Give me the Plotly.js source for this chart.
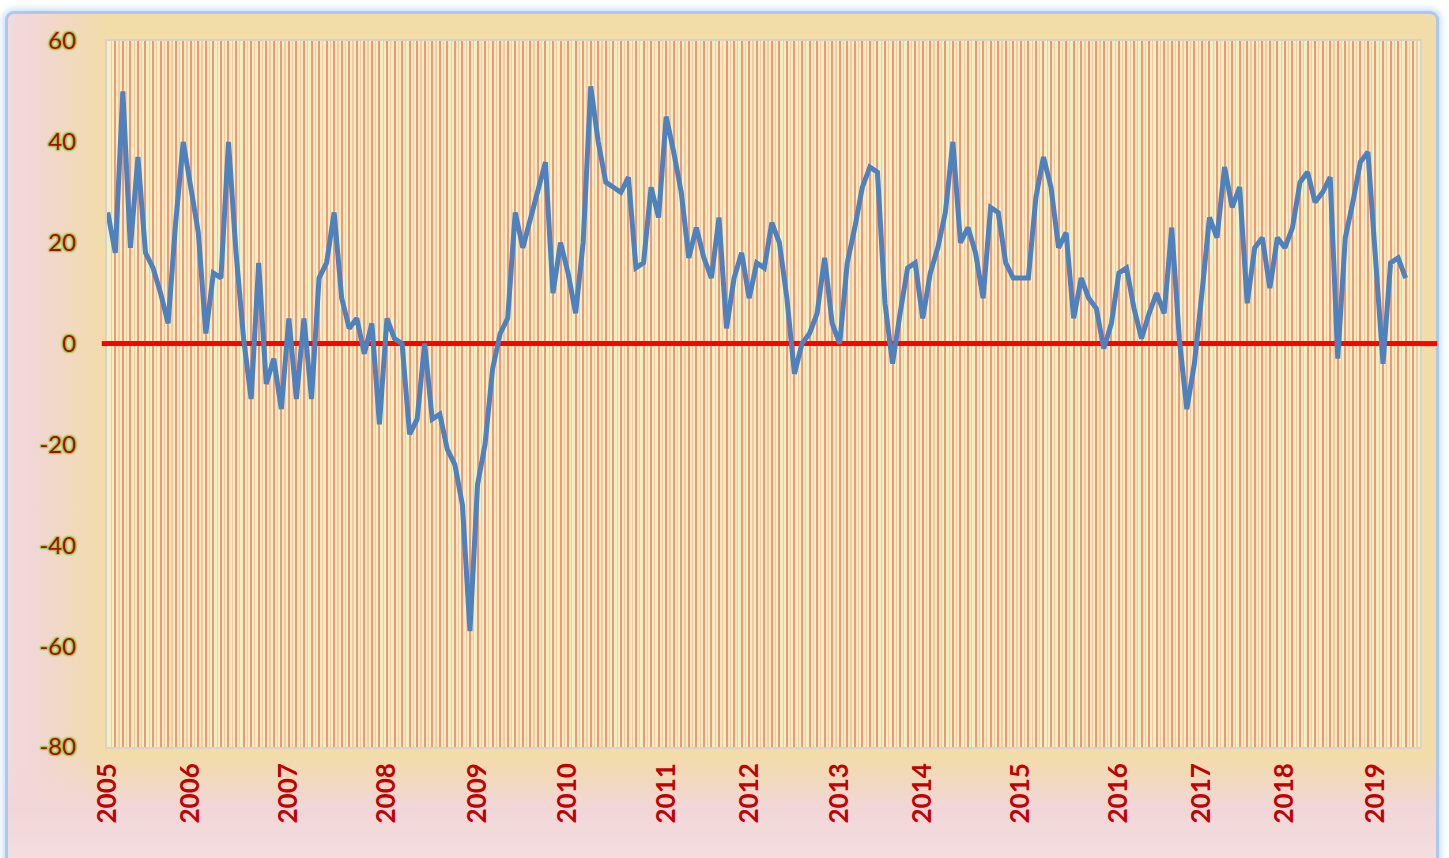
<!DOCTYPE html>
<html>
<head>
<meta charset="utf-8">
<script src="https://cdn.plot.ly/plotly-3.0.1.min.js"></script>
<style>
  html, body { margin: 0; padding: 0; background: #ffffff; width: 1449px; height: 858px; overflow: hidden; }
  #frame {
    position: absolute; left: 5px; top: 11px; width: 1428px; height: 900px;
    border: 3px solid #a9c9f1; border-radius: 9px;
    box-shadow: 0 0 6px 2px rgba(150,190,240,0.55);
    background:
      linear-gradient(to bottom, rgba(241,214,216,0) 0px, rgba(241,214,216,0) 740px, rgba(241,214,216,1) 795px, #f5e4e4 880px),
      linear-gradient(to right, #f3dbdb 0px, #f1d6d6 25px, rgba(242,220,168,0) 100px),
      #f2dca7;
  }
  #chart { position: absolute; left: 0; top: 0; width: 1449px; height: 858px; }
</style>
</head>
<body>
<div id="frame"></div>
<div id="chart"></div>
<script>
// Monthly readings (index = month position on the category axis)
const seriesValues = [
  26, 18, 50, 19, 37, 18, 15, 10, 4, 24, 40,
  31, 22, 2, 14, 13, 40, 18, 1, -11, 16, -8, -3, -13,
  5, -11, 5, -11, 13, 16, 26, 9, 3, 5, -2, 4, -16,
  5, 1, 0, -18, -15, 0, -15, -14, -21, -24, -32, -57,
  -28, -20, -5, 2, 5, 26, 19, 25, 31, 36, 10, 20,
  14, 6, 20, 51, 40, 32, 31, 30, 33, 15, 16, 31, 25,
  45, 38, 30, 17, 23, 17, 13, 25, 3, 13, 18,
  9, 16, 15, 24, 20, 9, -6, 0, 2, 6, 17, 4,
  0, 16, 23, 31, 35, 34, 8, -4, 6, 15, 16,
  5, 14, 19, 26, 40, 20, 23, 18, 9, 27, 26, 16, 13,
  13, 13, 29, 37, 31, 19, 22, 5, 13, 9, 7, -1, 4,
  14, 15, 7, 1, 6, 10, 6, 23, 1, -13, -4,
  10, 25, 21, 35, 27, 31, 8, 19, 21, 11, 21,
  19, 23, 32, 34, 28, 30, 33, -3, 21, 28, 36, 38,
  17, -4, 16, 17, 13
];
const yearLabels = ['2005','2006','2007','2008','2009','2010','2011','2012','2013','2014','2015','2016','2017','2018','2019'];
const yearTickIndex = [0, 11, 24, 37, 49, 61, 74, 85, 97, 108, 121, 134, 145, 156, 168];
const yTickValues = [-80, -60, -40, -20, 0, 20, 40, 60];
const yTickLabels = ['-80', '-60', '-40', '-20', '0', '20', '40', '60'];
const referenceLevel = 0;

const xIndex = seriesValues.map((v, i) => i);

const trace = {
  x: xIndex,
  y: seriesValues,
  type: 'scatter',
  mode: 'lines',
  line: { color: '#4f81bd', width: 5 },
  hoverinfo: 'x+y'
};

// carrier for the year-label axis (draws nothing)
const labelCarrier = {
  x: yearTickIndex,
  y: yearTickIndex.map(() => referenceLevel),
  xaxis: 'x2',
  yaxis: 'y',
  type: 'scatter',
  mode: 'none',
  hoverinfo: 'skip',
  showlegend: false
};

const xRange = [-0.1, 173.9];

const layout = {
  width: 1449,
  height: 858,
  margin: { l: 107, r: 29, t: 41, b: 111 },
  paper_bgcolor: 'rgba(0,0,0,0)',
  plot_bgcolor: '#f4efc2',
  showlegend: false,
  xaxis: {
    type: 'linear',
    range: xRange,
    tickmode: 'linear',
    tick0: 0,
    dtick: 1,
    showticklabels: false,
    ticks: '',
    showgrid: true,
    gridcolor: 'rgba(242,140,112,0.9)',
    gridwidth: 2,
    minor: { tickmode: 'linear', tick0: 0.5, dtick: 0.5, showgrid: true, gridcolor: 'rgba(246,196,160,0.9)', gridwidth: 1.2, ticks: '' },
    zeroline: false,
    showline: true,
    mirror: true,
    linecolor: '#d6d2cc',
    linewidth: 2,
    fixedrange: true
  },
  xaxis2: {
    type: 'linear',
    overlaying: 'x',
    anchor: 'y',
    side: 'bottom',
    range: xRange,
    tickmode: 'array',
    tickvals: yearTickIndex,
    ticktext: yearLabels,
    tickangle: -90,
    ticks: '',
    ticklabelstandoff: 10,
    tickfont: { family: 'Lato, "Liberation Sans", sans-serif', size: 26, color: '#c00000', weight: 'bold' },
    showgrid: false,
    zeroline: false,
    showline: false,
    fixedrange: true
  },
  yaxis: {
    range: [-80, 60],
    tickmode: 'array',
    tickvals: yTickValues,
    ticktext: yTickLabels,
    ticks: '',
    ticklabelstandoff: 24,
    tickfont: { family: 'Lato, "Liberation Sans", sans-serif', size: 24, color: '#c00000',
      shadow: '1px 1px 1px #8fd050, -1px -1px 1px #8fd050, 1px -1px 1px #8fd050, -1px 1px 1px #8fd050, 0 0 3px #8fd050' },
    showgrid: false,
    zeroline: true,
    zerolinecolor: '#ff0000',
    zerolinewidth: 5,
    showline: true,
    mirror: true,
    linecolor: '#d6d2cc',
    linewidth: 2,
    fixedrange: true
  },
  shapes: [
    { type: 'line', xref: 'paper', yref: 'y', x0: -0.004, x1: 0.0, y0: referenceLevel, y1: referenceLevel,
      line: { color: '#ff0000', width: 5 } },
    { type: 'line', xref: 'paper', yref: 'y', x0: 1.0, x1: 1.013, y0: referenceLevel, y1: referenceLevel,
      line: { color: '#ff0000', width: 5 } }
  ]
};

Plotly.newPlot('chart', [trace, labelCarrier], layout, { displayModeBar: false, staticPlot: true });
</script>
</body>
</html>
